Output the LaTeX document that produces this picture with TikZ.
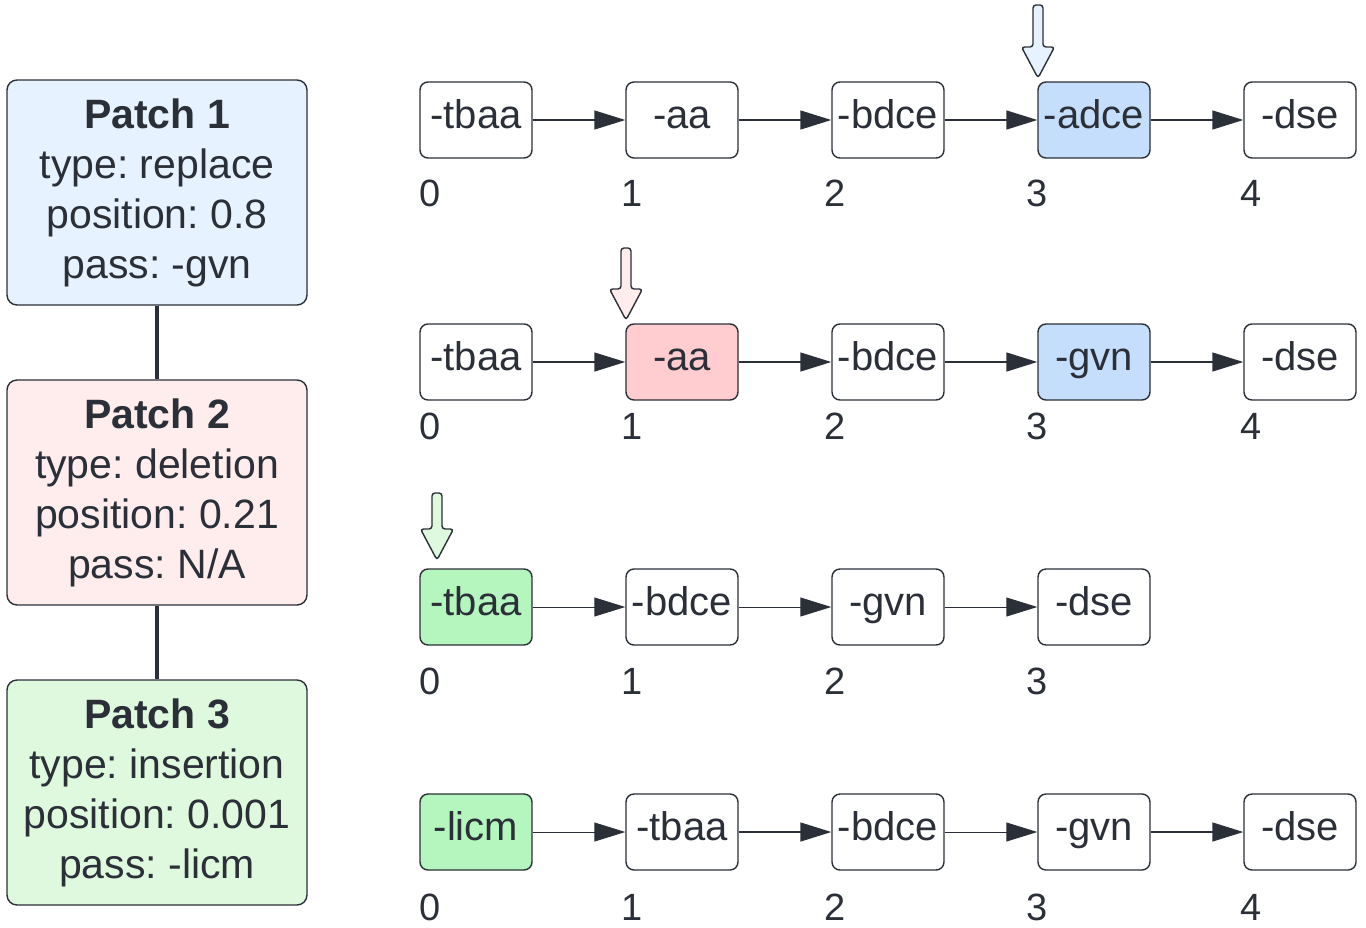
\documentclass[tikz,border=0pt]{standalone}
\usepackage{fontspec}
\setmainfont{Liberation Sans}
\usetikzlibrary{arrows.meta}
\frenchspacing
\definecolor{dk}{RGB}{43,47,56}
\definecolor{pblue}{RGB}{230,242,255}
\definecolor{pred}{RGB}{255,236,236}
\definecolor{pgreen}{RGB}{222,249,221}
\definecolor{hblue}{RGB}{197,222,252}
\definecolor{hred}{RGB}{255,204,207}
\definecolor{hgreen}{RGB}{181,245,190}
\tikzset{
  passbox/.style={draw=dk, line width=1.4pt, rounded corners=8pt, minimum width=112pt, minimum height=76pt, inner sep=0pt, text=dk, text height=27pt, text depth=11pt, font=\fontsize{40}{44}\selectfont},
  patchbox/.style={draw=dk, line width=1.4pt, rounded corners=10pt, minimum width=300pt, minimum height=225pt, inner sep=0pt, text=dk, align=center, font=\fontsize{41}{50}\selectfont},
  idx/.style={text=dk, font=\fontsize{38}{44}\selectfont, inner sep=0pt},
  flow/.style={draw=dk, line width=1.4pt, -{Triangle[length=31pt,width=19pt]}},
  thinflow/.style={flow, line width=0.9pt},
  link/.style={draw=dk, line width=4pt},
  blk/.style={draw=dk, line width=1.4pt, rounded corners=3pt}
}
\newcommand\blkarrow[4]{%
  \draw[blk, fill=#4] (#1-5,#2) -- (#1+5,#2) -- (#1+5,#3-31) -- (#1+16.5,#3-31) -- (#1,#3) -- (#1-16.5,#3-31) -- (#1-5,#3-31) -- cycle;}
\begin{document}
\begin{tikzpicture}[x=1pt,y=-1pt]
\useasboundingbox (0,0) rectangle (1366,927);
% patches
\node[patchbox, fill=pblue] (p1) at (157,192.5) {\textbf{Patch 1}\\type: replace\\position: 0.8\\pass: -gvn};
\node[patchbox, fill=pred] (p2) at (157,492.5) {\textbf{Patch 2}\\type: deletion\\position: 0.21\\pass: N/A};
\node[patchbox, fill=pgreen] (p3) at (157,792.5) {\textbf{Patch 3}\\type: insertion\\position: 0.001\\pass: -licm};
\draw[link] (p1.south) -- (p2.north);
\draw[link] (p2.south) -- (p3.north);
% row 1
\node[passbox] (a0) at (476,120) {-tbaa};
\node[passbox] (a1) at (682,120) {-aa};
\node[passbox] (a2) at (888,120) {-bdce};
\node[passbox, fill=hblue] (a3) at (1094,120) {-adce};
\node[passbox] (a4) at (1300,120) {-dse};
\draw[flow] (a0) -- (a1);
\draw[flow] (a1) -- (a2);
\draw[flow] (a2) -- (a3);
\draw[flow] (a3) -- (a4);
\node[idx] (ia0) at (430,193) {0};
\node[idx] (ia1) at (632,193) {1};
\node[idx] (ia2) at (835,193) {2};
\node[idx] (ia3) at (1037,193) {3};
\node[idx] (ia4) at (1251,193) {4};
\blkarrow{1038}{5}{78}{pblue}
% row 2
\node[passbox] (b0) at (476,362) {-tbaa};
\node[passbox, fill=hred] (b1) at (682,362) {-aa};
\node[passbox] (b2) at (888,362) {-bdce};
\node[passbox, fill=hblue] (b3) at (1094,362) {-gvn};
\node[passbox] (b4) at (1300,362) {-dse};
\draw[flow] (b0) -- (b1);
\draw[flow] (b1) -- (b2);
\draw[flow] (b2) -- (b3);
\draw[flow] (b3) -- (b4);
\node[idx] (ib0) at (430,426) {0};
\node[idx] (ib1) at (632,426) {1};
\node[idx] (ib2) at (835,426) {2};
\node[idx] (ib3) at (1037,426) {3};
\node[idx] (ib4) at (1251,426) {4};
\blkarrow{626}{248}{320}{pred}
% row 3
\node[passbox, fill=hgreen] (c0) at (476,607) {-tbaa};
\node[passbox] (c1) at (682,607) {-bdce};
\node[passbox] (c2) at (888,607) {-gvn};
\node[passbox] (c3) at (1094,607) {-dse};
\draw[thinflow] (c0) -- (c1);
\draw[thinflow] (c1) -- (c2);
\draw[thinflow] (c2) -- (c3);
\node[idx] (ic0) at (430,681) {0};
\node[idx] (ic1) at (632,681) {1};
\node[idx] (ic2) at (835,681) {2};
\node[idx] (ic3) at (1037,681) {3};
\blkarrow{437}{493}{560}{pgreen}
% row 4
\node[passbox, fill=hgreen] (d0) at (476,832) {-licm};
\node[passbox] (d1) at (682,832) {-tbaa};
\node[passbox] (d2) at (888,832) {-bdce};
\node[passbox] (d3) at (1094,832) {-gvn};
\node[passbox] (d4) at (1300,832) {-dse};
\draw[thinflow] (d0) -- (d1);
\draw[flow] (d1) -- (d2);
\draw[thinflow] (d2) -- (d3);
\draw[flow] (d3) -- (d4);
\node[idx] (id0) at (430,907) {0};
\node[idx] (id1) at (632,907) {1};
\node[idx] (id2) at (835,907) {2};
\node[idx] (id3) at (1037,907) {3};
\node[idx] (id4) at (1251,907) {4};
\end{tikzpicture}
\end{document}
